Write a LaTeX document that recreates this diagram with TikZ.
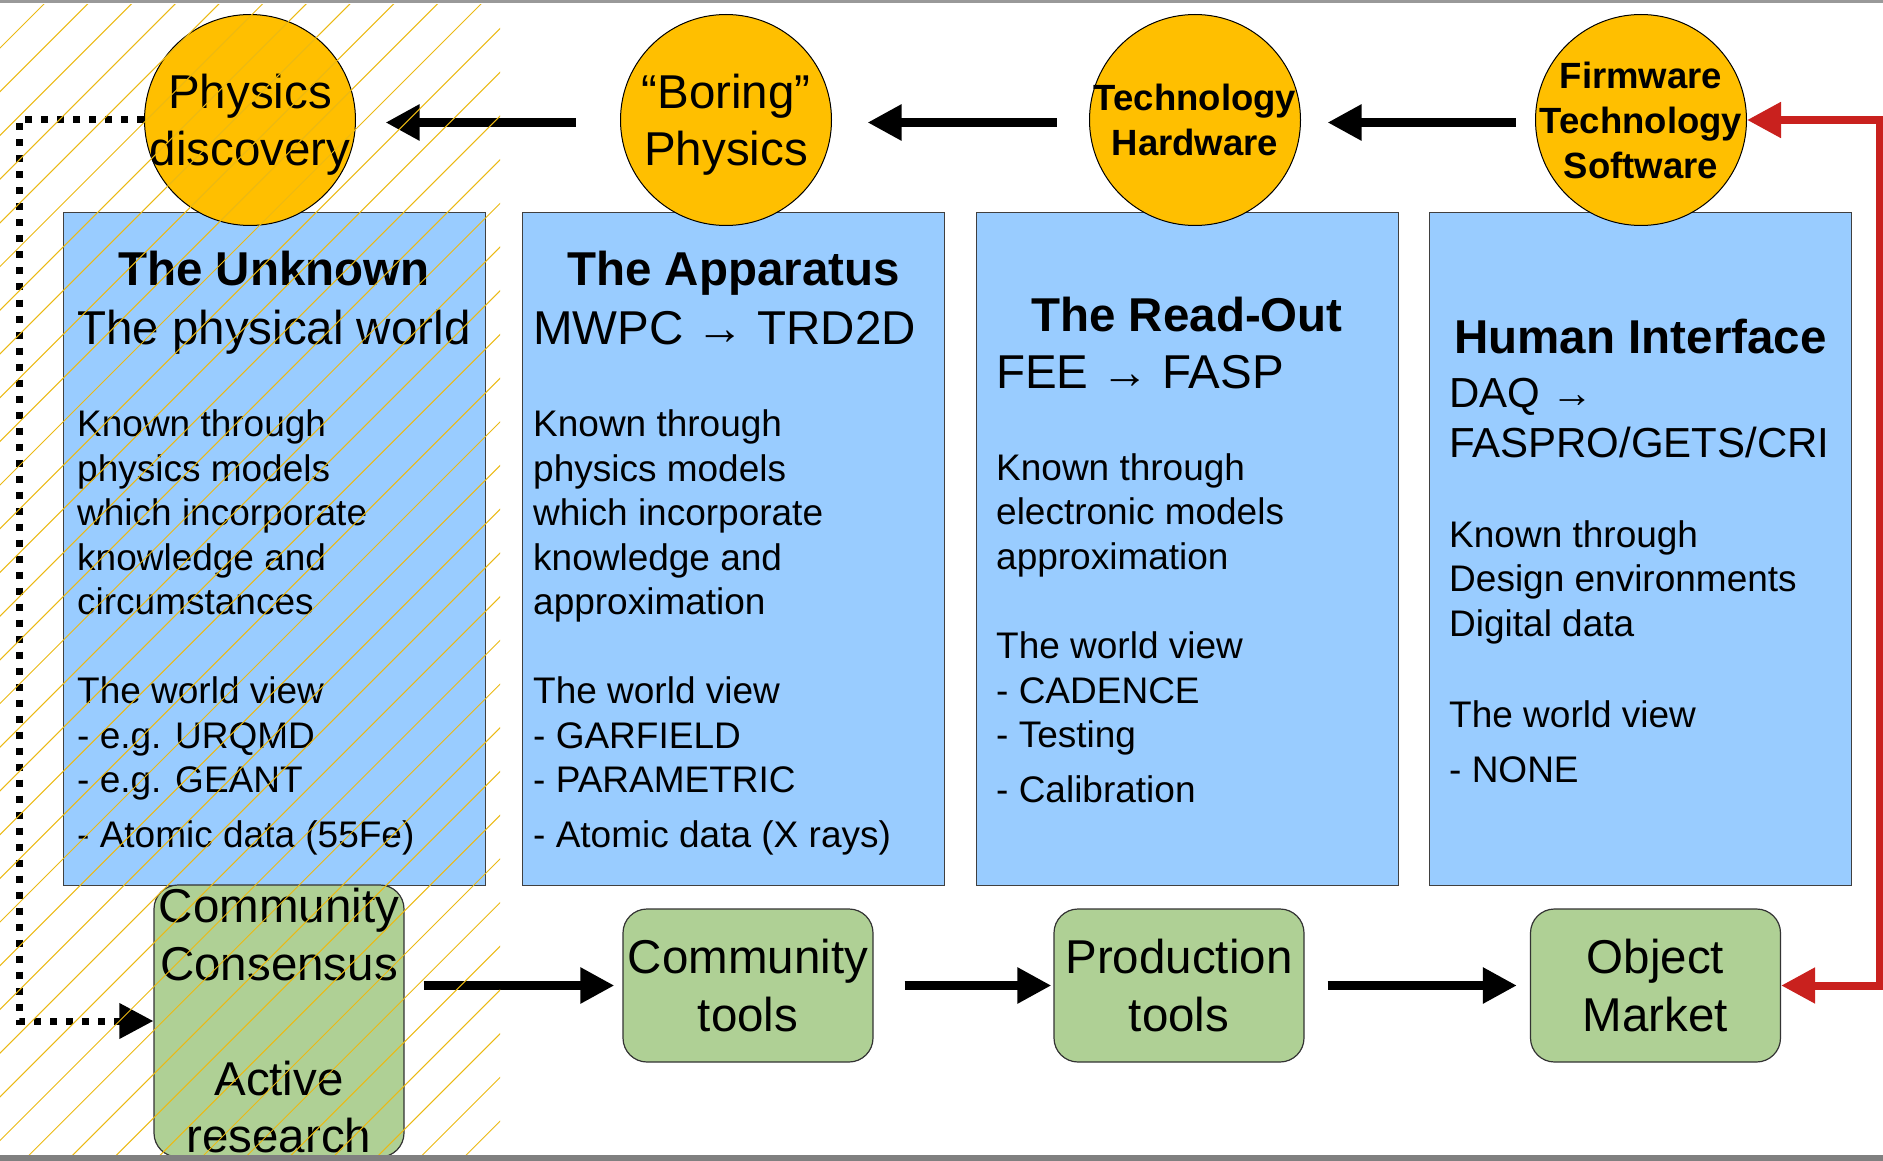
\documentclass[tikz,border=0pt]{standalone}
\usepackage{fontspec}
\setmainfont{Liberation Sans}
\usetikzlibrary{arrows.meta}
\definecolor{skyfill}{RGB}{153,204,255}
\definecolor{amber}{RGB}{255,191,0}
\definecolor{sage}{RGB}{175,208,149}
\definecolor{brickred}{RGB}{201,33,30}
\definecolor{hatchgold}{RGB}{235,185,20}

\begin{document}
\begin{tikzpicture}[x=1pt, y=-1pt,
    panel/.style={
        rectangle,
        fill=skyfill,
        draw=black!75,
        line width=1.2pt,
        minimum width=422pt,
        minimum height=673pt,
        inner sep=0pt
    },
    bubble/.style={
        circle,
        fill=amber,
        draw=black,
        line width=1pt,
        minimum size=211pt,
        inner sep=-25pt,
        align=center,
        text depth=0pt,
        font=\fontsize{47.5}{57}\selectfont
    },
    boldbubble/.style={bubble, font=\fontsize{36.5}{45}\selectfont\bfseries},
    pill/.style={
        rectangle,
        rounded corners=24pt,
        fill=sage,
        draw=black!80,
        line width=1.2pt,
        minimum width=250pt,
        minimum height=153pt,
        inner sep=0pt,
        align=center,
        font=\fontsize{47.5}{57.5}\selectfont
    },
    heading/.style={anchor=base, inner sep=0pt, font=\fontsize{47.5}{58}\selectfont\bfseries},
    subline/.style={anchor=base west, inner sep=0pt, align=left, font=\fontsize{47.5}{58}\selectfont},
    bodytext/.style={anchor=base west, inner sep=0pt, align=left, font=\fontsize{37}{44.5}\selectfont},
    flow/.style={line width=9pt, -{Triangle[length=34pt, width=34pt]}},
    backflow/.style={draw=brickred, line width=8pt, {Triangle[length=34pt, width=34pt]}-{Triangle[length=34pt, width=34pt]}},
    loopback/.style={line width=7pt, dash pattern=on 7pt off 9pt, -{Triangle[length=34pt, width=34pt]}}
]
    \useasboundingbox (0,0) rectangle (1883,1161);

    % the four columns
    \node[panel, anchor=north west] (unknown) at (63,212) {};
    \node[panel, anchor=north west] (apparatus) at (522,212) {};
    \node[panel, anchor=north west] (readout) at (976,212) {};
    \node[panel, anchor=north west] (human) at (1429,212) {};

    % top row
    \node[bubble] (disc) at (250,120) {Physics\\discovery};
    \node[bubble] (boring) at (726,120) {“Boring”\\Physics};
    \node[boldbubble] (techhw) at (1195,120) {Technology\\Hardware};
    \node[boldbubble] (firm) at (1641,120) {Firmware\\Technology\\Software};

    % bottom row
    \node[pill, minimum height=272pt] (cc) at (279,1021) {Community\\Consensus\\[57.5pt]Active\\research};
    \node[pill] (ctools) at (748,985.5) {Community\\tools};
    \node[pill] (ptools) at (1179,985.5) {Production\\tools};
    \node[pill] (market) at (1655.5,985.5) {Object\\Market};

    % column texts (multi-line nodes sit on their last baseline)
    \node[heading] (unknown-title) at (274,286) {The Unknown};
    \node[subline] (unknown-sub) at (77,344) {The physical world};
    \node[bodytext] (unknown-body) at (77,847) {Known through\\physics models\\which incorporate\\knowledge and\\circumstances\\[44.5pt]The world view\\- e.g. URQMD\\- e.g. GEANT\\[10pt]- Atomic data (55Fe)};

    \node[heading] (apparatus-title) at (733.5,286) {The Apparatus};
    \node[subline] (apparatus-sub) at (533,344) {MWPC → TRD2D};
    \node[bodytext] (apparatus-body) at (533,847) {Known through\\physics models\\which incorporate\\knowledge and\\approximation\\[44.5pt]The world view\\- GARFIELD\\- PARAMETRIC\\[10pt]- Atomic data (X rays)};

    \node[heading] (readout-title) at (1187,331) {The Read-Out};
    \node[subline] (readout-sub) at (996,388) {FEE → FASP};
    \node[bodytext] (readout-body) at (996,802) {Known through\\electronic models\\approximation\\[45pt]The world view\\- CADENCE\\- Testing\\[10pt]- Calibration};

    \node[heading] (human-title) at (1640.5,353) {Human Interface};
    \node[subline, font=\fontsize{42}{50}\selectfont] (human-sub) at (1449,457) {DAQ →\\FASPRO/GETS/CRI};
    \node[bodytext] (human-body) at (1449,782) {Known through\\Design environments\\Digital data\\[47pt]The world view\\[10pt]- NONE};

    % arrows
    \draw[flow, shorten <=44.5pt, shorten >=29.5pt] ([yshift=-2.5pt]boring.west) -- ([yshift=-2.5pt]disc.east);
    \draw[flow, shorten <=32.5pt, shorten >=35.5pt] ([yshift=-2.5pt]techhw.west) -- ([yshift=-2.5pt]boring.east);
    \draw[flow, shorten <=19.5pt, shorten >=26.5pt] ([yshift=-2.5pt]firm.west) -- ([yshift=-2.5pt]techhw.east);
    \draw[flow, shorten <=19pt, shorten >=8pt] (cc.east |- ctools.west) -- (ctools.west);
    \draw[flow, shorten <=31pt, shorten >=2pt] (ctools) -- (ptools);
    \draw[flow, shorten <=23pt, shorten >=13pt] (ptools) -- (market);
    \draw[backflow] (market.east) -- ++(99,0) |- (firm.east);
    \draw[loopback] (disc.west) -- ++(-124.5,0) |- (cc.west);

    % hatching over the left column
    \begin{scope}
        \clip (0,5) rectangle (500,1155);
        \foreach \k in {0,...,37}
            \draw[hatchgold, line width=1pt] ({48+43.7*\k},0) -- ++(-1200,1200);
    \end{scope}

    \fill[black!40] (0,0) rectangle (1883,3);
    \fill[black!50] (0,1155) rectangle (1883,1161);
\end{tikzpicture}
\end{document}
